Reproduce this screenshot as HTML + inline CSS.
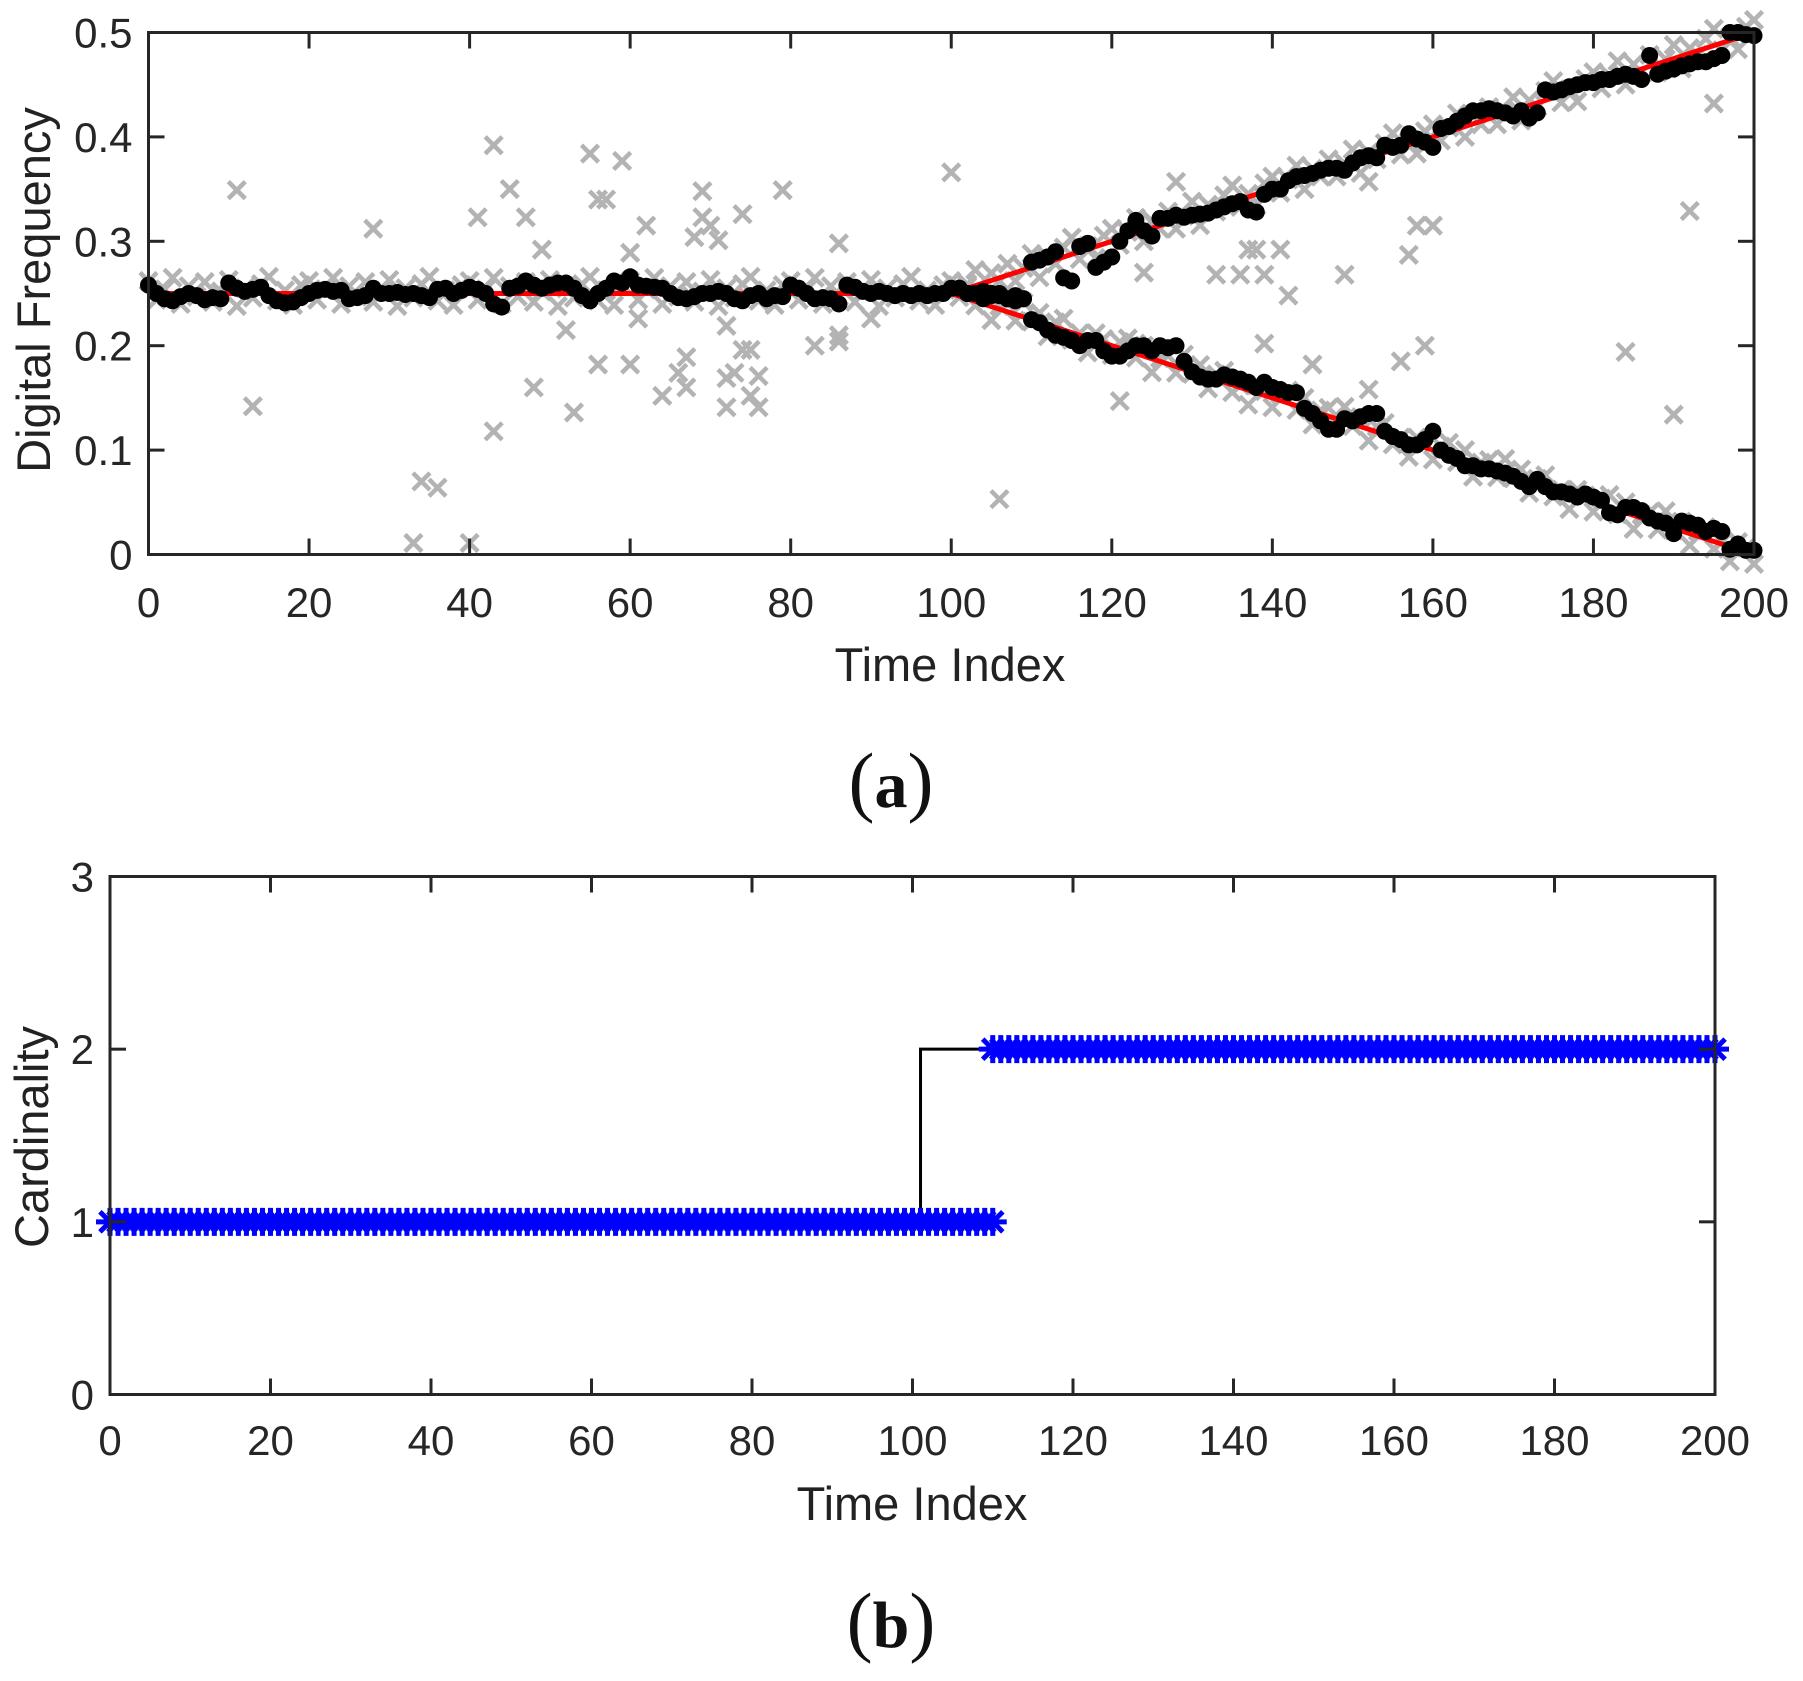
<!DOCTYPE html>
<html><head><meta charset="utf-8">
<style>
html,body{margin:0;padding:0;background:#fff;}
svg{display:block;font-family:"Liberation Sans",Arial,sans-serif;}
</style></head>
<body>
<svg id="fig" width="1803" height="1681" viewBox="0 0 1803 1681" xmlns="http://www.w3.org/2000/svg">
<g id="pa"></g>
<g id="pb"></g>
<text x="950" y="681" font-size="47" text-anchor="middle" fill="#222">Time Index</text>
<text x="891" y="807" font-size="78" text-anchor="middle" font-family="Liberation Serif, serif" fill="#111">(<tspan font-weight="bold" font-size="66">a</tspan>)</text>
<text transform="translate(50,290) rotate(-90)" font-size="47" text-anchor="middle" fill="#222">Digital Frequency</text>
<text x="912" y="1520" font-size="47" text-anchor="middle" fill="#222">Time Index</text>
<text x="891" y="1647" font-size="78" text-anchor="middle" font-family="Liberation Serif, serif" fill="#111">(<tspan font-weight="bold" font-size="66">b</tspan>)</text>
<text transform="translate(48,1137) rotate(-90)" font-size="47" text-anchor="middle" fill="#222">Cardinality</text>
</svg>
<script>
const xTicks=[0,20,40,60,80,100,120,140,160,180,200];
const yTicksA=[0,0.1,0.2,0.3,0.4,0.5];
const yTickLabelsA=["0","0.1","0.2","0.3","0.4","0.5"];
const yTicksB=[0,1,2,3];
const truthUpper=[[0,0.25],[100,0.25],[200,0.5]];
const truthLower=[[100,0.25],[200,0]];
const residA=[.012,-.006,.004,.015,-.01,.007,-.003,.011,-.008,.002,.013,-.012,.005,-.004,.009,.016,-.007,.003,-.011,.008];
const residB=[-.009,.006,.012,-.004,.01,-.013,.003,.008,-.006,.014,-.002,.009,-.011,.005,.011,-.007,.002,-.014,.007,.004];
const est1=[.258,.25,.245,.243,.247,.25,.248,.244,.246,.245,
.26,.255,.252,.254,.256,.248,.243,.241,.242,.246,
.25,.253,.254,.252,.253,.245,.246,.248,.255,.25,
.25,.251,.249,.25,.248,.246,.254,.255,.25,.253,
.256,.254,.25,.24,.237,.255,.257,.262,.258,.255,
.258,.26,.26,.255,.248,.243,.25,.255,.262,.26,
.266,.258,.257,.256,.255,.25,.246,.245,.247,.25,
.25,.252,.25,.245,.243,.248,.25,.245,.248,.247,
.258,.255,.25,.245,.246,.245,.24,.258,.256,.252,
.25,.252,.25,.248,.25,.248,.25,.248,.25,.25,
.255,.255,.25,.25,.245,.248,.25,.245,.243,.245,
.28,.282,.285,.29,.265,.262,.295,.298,.275,.28,
.285,.3,.31,.32,.31,.305,.322,.322,.325,.323,
.325,.326,.327,.33,.333,.336,.338,.33,.328,.345,
.35,.35,.358,.362,.363,.365,.368,.37,.37,.368,
.375,.38,.382,.38,.392,.39,.392,.403,.398,.395,
.39,.408,.41,.415,.42,.425,.425,.427,.425,.423,
.42,.425,.418,.423,.445,.443,.445,.448,.45,.452,
.452,.455,.455,.458,.46,.458,.455,.478,.46,.463,
.465,.468,.47,.472,.472,.475,.478,.5,.5,.498,.497];
const est2Start=101;
const est2=[.255,.25,.25,.252,.25,.248,.245,.248,.245,.225,
.222,.215,.21,.208,.205,.2,.205,.205,.195,.19,
.19,.195,.2,.2,.195,.2,.198,.2,.185,.175,
.17,.168,.168,.172,.17,.168,.165,.16,.165,.16,
.158,.155,.155,.14,.135,.128,.12,.12,.13,.128,
.132,.135,.135,.118,.113,.11,.105,.105,.11,.118,
.1,.095,.092,.085,.085,.082,.082,.08,.078,.075,
.07,.065,.072,.065,.06,.06,.058,.055,.058,.055,
.052,.04,.038,.045,.045,.042,.035,.032,.03,.02,
.032,.03,.028,.022,.025,.022,.005,.01,.004,.004];
const clutterT=[11,13,28,33,34,36,40,41,43,43,45,47,48,49,52,53,55,56,56,57,59,60,60,61,62,64,66,67,67,68,69,69,70,71,72,72,72,73,74,74,75,75,76,76,79,83,86,86,86,90,100,106,112,121,123,124,125,128,133,136,137,138,139,139,141,142,145,149,152,152,156,157,158,159,160,184,190,192,195];
const clutterV=[.349,.142,.312,.011,.07,.064,.011,.323,.392,.118,.35,.323,.16,.292,.215,.136,.384,.182,.34,.34,.377,.182,.289,.226,.315,.152,.174,.189,.16,.304,.348,.323,.315,.301,.141,.169,.219,.174,.326,.196,.196,.152,.141,.171,.349,.2,.298,.204,.21,.226,.366,.053,.285,.147,.202,.27,.318,.357,.268,.268,.292,.292,.202,.268,.292,.248,.182,.268,.357,.158,.185,.287,.315,.2,.315,.194,.134,.329,.432];
const cardEstT1=[0,110];const cardEstV1=1;
const cardEstT2=[110,200];const cardEstV2=2;
const cardTrue=[[0,1],[101,1],[101,2],[110,2]];

const NS="http://www.w3.org/2000/svg";
function mk(parent,tag,attrs){const e=document.createElementNS(NS,tag);for(const k in attrs)e.setAttribute(k,attrs[k]);parent.appendChild(e);return e;}
const A={x0:148.5,x1:1754,y0:554.5,y1:32.5,ymax:0.5};
const B={x0:110,x1:1715,y0:1394.5,y1:876.5,ymax:3};
const xa=t=>A.x0+(A.x1-A.x0)*t/200, ya=v=>A.y0-(A.y0-A.y1)*v/A.ymax;
const xb=t=>B.x0+(B.x1-B.x0)*t/200, yb=v=>B.y0-(B.y0-B.y1)*v/B.ymax;
function truthAt(seg,t){for(let i=0;i<seg.length-1;i++){const [t0,v0]=seg[i],[t1,v1]=seg[i+1];if(t>=t0&&t<=t1)return v0+(v1-v0)*(t-t0)/(t1-t0);}return null;}

function axes(g,P,xf,yf,yt,ylab,xlabBase){
  const fr=mk(g,'rect',{x:P.x0,y:P.y1,width:P.x1-P.x0,height:P.y0-P.y1,fill:'none',stroke:'#262626','stroke-width':3});
  
  
  xTicks.forEach(t=>{const x=xf(t);
    mk(g,'line',{x1:x,y1:P.y0,x2:x,y2:P.y0-16,stroke:'#262626','stroke-width':3});
    mk(g,'line',{x1:x,y1:P.y1,x2:x,y2:P.y1+16,stroke:'#262626','stroke-width':3});
    const tx=mk(g,'text',{x:x,y:xlabBase,'font-size':42,'text-anchor':'middle',fill:'#262626'});tx.textContent=t;
    
    
  });
  yt.forEach((v,i)=>{const y=yf(v);
    mk(g,'line',{x1:P.x0,y1:y,x2:P.x0+16,y2:y,stroke:'#262626','stroke-width':3});
    mk(g,'line',{x1:P.x1,y1:y,x2:P.x1-16,y2:y,stroke:'#262626','stroke-width':3});
    const tx=mk(g,'text',{x:P.x0-16,y:y+15,'font-size':42,'text-anchor':'end',fill:'#262626'});tx.textContent=ylab[i];
    
    
  });
}
function xmark(g,x,y,name){const s=8.5;
  const p=mk(g,'path',{d:`M${x-s},${y-s}L${x+s},${y+s}M${x-s},${y+s}L${x+s},${y-s}`,stroke:'#b3b3b3','stroke-width':4.5,fill:'none'});
  
  
}
const ga=document.getElementById('pa');
for(let t=0;t<=200;t++){xmark(ga,xa(t),ya(truthAt(truthUpper,t)+residA[t%residA.length]),'measurement');
  if(t>100)xmark(ga,xa(t),ya(truthAt(truthLower,t)+residB[t%residB.length]),'measurement');}
clutterT.forEach((t,i)=>xmark(ga,xa(t),ya(clutterV[i]),'clutter-measurement'));
[truthUpper,truthLower].forEach((seg,k)=>{
  const pl=mk(ga,'polyline',{points:seg.map(p=>xa(p[0])+','+ya(p[1])).join(' '),fill:'none',stroke:'#ff0000','stroke-width':5});
  
  
});
est1.forEach((v,t)=>{const c=mk(ga,'circle',{cx:xa(t),cy:ya(v),r:8.5,fill:'#000'});
  
  });
est2.forEach((v,i)=>{const c=mk(ga,'circle',{cx:xa(est2Start+i),cy:ya(v),r:8.5,fill:'#000'});
  
  });
axes(ga,A,xa,ya,yTicksA,yTickLabelsA,617);
const gb=document.getElementById('pb');
const tl=mk(gb,'polyline',{points:cardTrue.map(p=>xb(p[0])+','+yb(p[1])).join(' '),fill:'none',stroke:'#000','stroke-width':3});


function star(x,y){const s=14,d=s*0.72;
  const p=mk(gb,'path',{d:`M${x-s},${y}L${x+s},${y}M${x},${y-s}L${x},${y+s}M${x-d},${y-d}L${x+d},${y+d}M${x-d},${y+d}L${x+d},${y-d}`,stroke:'#0000ff','stroke-width':5,fill:'none'});
  
  }
for(let t=cardEstT1[0];t<=cardEstT1[1];t++)star(xb(t),yb(cardEstV1));
for(let t=cardEstT2[0];t<=cardEstT2[1];t++)star(xb(t),yb(cardEstV2));
axes(gb,B,xb,yb,yTicksB,yTicksB.map(String),1455);
</script>
</body></html>
